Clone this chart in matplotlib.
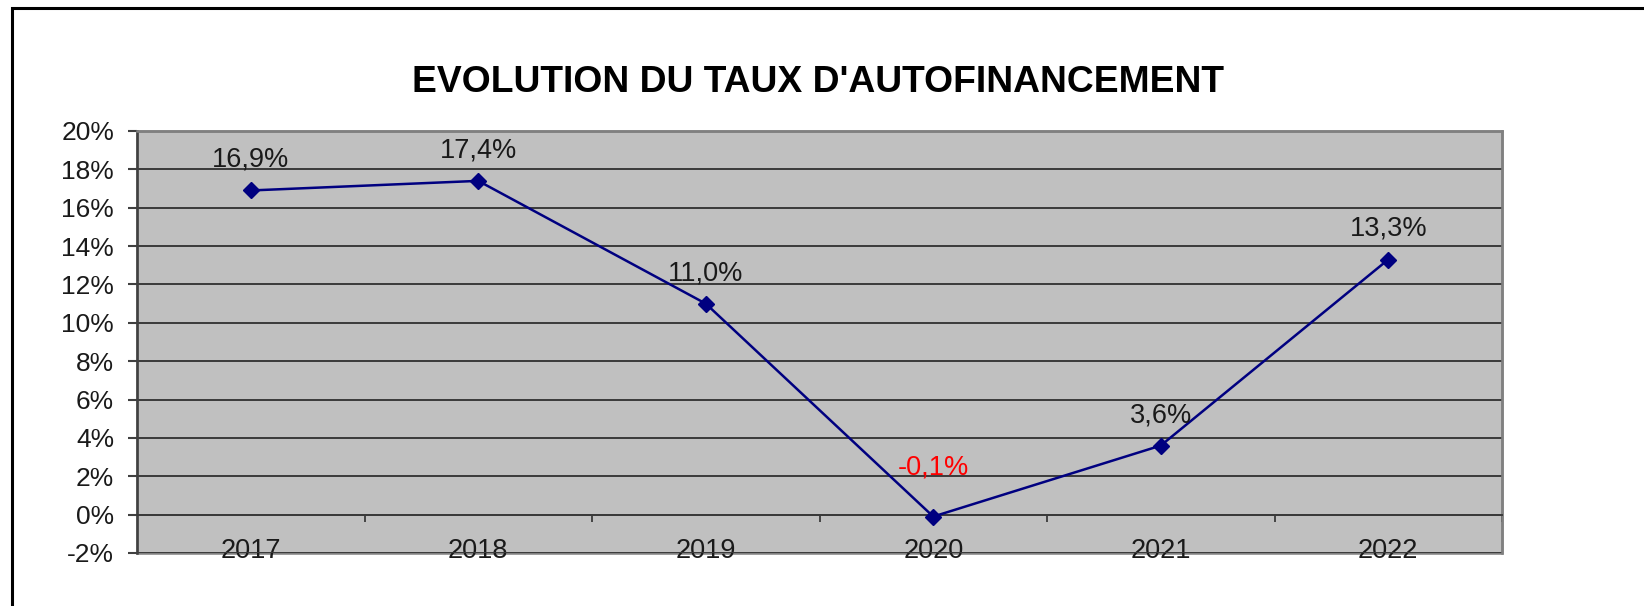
import matplotlib
matplotlib.use("Agg")
import matplotlib.pyplot as plt
from matplotlib.patches import Rectangle
from matplotlib.ticker import FixedLocator, FuncFormatter

plt.rcParams['font.family'] = ['Liberation Sans', 'DejaVu Sans']

# taux d'autofinancement (%)
years = ['2017', '2018', '2019', '2020', '2021', '2022']
rates = [16.9, 17.4, 11.0, -0.1, 3.6, 13.3]
y_ticks = [-2, 0, 2, 4, 6, 8, 10, 12, 14, 16, 18, 20]

W, H = 1644, 606
fig = plt.figure(figsize=(W / 100, H / 100), dpi=100)
fig.patch.set_facecolor('white')

# cadre extérieur (seuls les bords gauche et haut sont visibles)
fig.add_artist(Rectangle((12 / W, -0.1), 1.2, 1.1 - 8 / H, transform=fig.transFigure,
                         facecolor='none', edgecolor='black', lw=2.2))

left, right, top, bottom = 137, 1502, 131, 553
ax = fig.add_axes([left / W, 1 - bottom / H, (right - left) / W, (bottom - top) / H])
ax.set_facecolor('#c0c0c0')

x = list(range(len(years)))
ax.plot(x, rates, color='#000080', lw=1.8, marker='D', ms=8, zorder=5, clip_on=False)

for xi, v in zip(x, rates):
    label = f"{v:.1f}%".replace('.', ',')
    color = '#ff0000' if v < 0 else '#1a1a1a'
    off = 35 if v < 0 else 22
    ax.annotate(label, (xi, v), xytext=(0, off), textcoords='offset points',
                ha='center', va='center', fontsize=19.5, color=color, zorder=6)

ax.set_xlim(-0.5, len(years) - 0.5)
ax.set_ylim(-2, 20)

# axe des ordonnées
ax.yaxis.set_major_locator(FixedLocator(y_ticks))
ax.yaxis.set_major_formatter(FuncFormatter(lambda v, p: f"{v:.0f}%"))
ax.tick_params(axis='y', direction='out', length=6.5, width=1.5, color='#404040',
               labelsize=19, labelcolor='#1a1a1a', pad=10)
ax.yaxis.grid(True, color='#3a3a3a', lw=1.4, zorder=1.5)

# axe des abscisses au niveau de 0 %
ax.spines['bottom'].set_position(('data', 0))
ax.spines['bottom'].set_color('#3a3a3a')
ax.spines['bottom'].set_linewidth(1.4)
ax.set_xticks(x)
ax.set_xticklabels(years)
ax.set_xticks([i + 0.5 for i in x], minor=True)
ax.tick_params(axis='x', which='major', length=0, labelsize=19.5, labelcolor='#1a1a1a', pad=17)
ax.tick_params(axis='x', which='minor', direction='out', length=5, width=1.3, color='#3a3a3a')

ax.spines['left'].set_color('#404040')
ax.spines['left'].set_linewidth(1.8)
ax.spines['top'].set_color('#808080')
ax.spines['top'].set_linewidth(1.8)
ax.spines['right'].set_color('#808080')
ax.spines['right'].set_linewidth(1.8)
ax.add_patch(Rectangle((0, 0), 1, 1, transform=ax.transAxes, facecolor='none',
                       edgecolor='#808080', lw=1.8, zorder=1, clip_on=False))

fig.text(818 / W, 1 - 92 / H, "EVOLUTION DU TAUX D'AUTOFINANCEMENT", ha='center', va='baseline',
         fontsize=26.8, fontweight='bold', color='black')

fig.savefig('out.png', dpi=100)
